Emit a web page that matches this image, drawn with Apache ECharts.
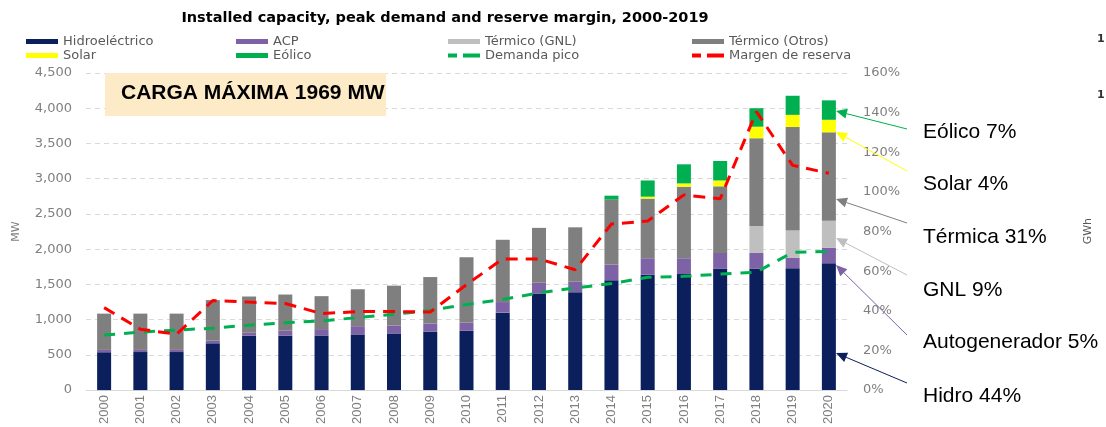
<!DOCTYPE html>
<html>
<head>
<meta charset="utf-8">
<script src="https://cdn.jsdelivr.net/npm/echarts@6/dist/echarts.min.js"></script>
<style>
html,body{margin:0;padding:0;background:#fff;}
#main{width:1106px;height:427px;}
</style>
</head>
<body>
<div id="main"></div>
<script>
// datos (MW y %)
var years = ['2000','2001','2002','2003','2004','2005','2006','2007','2008','2009','2010',
	'2011','2012','2013','2014','2015','2016','2017','2018','2019','2020'];
var hidro = [537,540,540,664,771,771,775,790,804,828,842,1099,1366,1389,1558,1637,1646,1721,1721,1730,1801];
var acp = [33,30,30,37,43,71,90,117,113,116,112,150,158,149,219,234,225,225,225,150,220];
var gnl = [0,0,0,0,0,0,0,0,0,0,0,0,0,0,0,0,0,0,384,384,383];
var otros = [515,515,515,576,514,514,468,524,565,660,931,884,778,772,926,846,1015,945,1244,1469,1254];
var solar = [0,0,0,0,0,0,0,0,0,0,0,0,0,0,0,28,47,84,164,173,178];
var eolico = [0,0,0,0,0,0,0,0,0,0,0,0,0,0,56,230,271,276,262,271,276];
var demanda = [781,823,851,879,921,954,982,1029,1076,1130,1216,1286,1380,1450,1511,1600,1614,1646,1674,1955,1969];
var margen = [41.6,30.7,28.2,45.2,44.4,43.7,38.6,39.6,39.6,39.4,53.2,66.2,66.2,60.7,83.8,85.3,98.5,96.5,140.5,113.4,109.4];

var fam = 'DejaVu Sans';
var grisTxt = '#7f7f7f';
var iconoGuion = 'path://M0,0 H9 V4 H0 Z M15,0 H32 V4 H15 Z';

function barSerie(name, data, color){
	return {
		name: name, type: 'bar', stack: 'cap', barWidth: 14,
		itemStyle: {color: color}, data: data
	};
}

function item(name){
	if(name == 'Demanda pico' || name == 'Margen de reserva'){
		return {name: name, icon: iconoGuion};
	}
	return {name: name, icon: 'rect'};
}

function lineaLeyenda(left, names){
	return {
		orient: 'vertical', left: left, top: 35, itemGap: 1, padding: 0,
		itemWidth: 32, itemHeight: 5,
		textStyle: {fontFamily: fam, fontSize: 13, color: '#595959'},
		data: names.map(item)
	};
}

// flecha de las anotaciones de la derecha
function flecha(x1, y1, x2, y2, color){
	var ang = Math.atan2(y2 - y1, x2 - x1);
	var L = 11, W = 5;
	var bx = x2 - L * Math.cos(ang), by = y2 - L * Math.sin(ang);
	var px = -Math.sin(ang) * W, py = Math.cos(ang) * W;
	return [{
		type: 'line', z: 100,
		shape: {x1: x1, y1: y1, x2: bx, y2: by},
		style: {stroke: color, lineWidth: 1}
	}, {
		type: 'polygon', z: 100,
		shape: {points: [[x2, y2], [bx + px, by + py], [bx - px, by - py]]},
		style: {fill: color}
	}];
}

function nota(text, y){
	return {
		type: 'text', left: 923, top: y - 12, z: 100,
		style: {text: text, fontFamily: 'Liberation Sans', fontSize: 21, fill: '#000'}
	};
}

var graficos = [
	{type: 'rect', z: 50, shape: {x: 105, y: 73, width: 281, height: 43}, style: {fill: '#FDEBC8'}},
	{type: 'text', z: 51, left: 121, top: 83,
		style: {text: 'CARGA MÁXIMA 1969 MW', fontFamily: 'Liberation Sans', fontWeight: 'bold', fontSize: 21, fill: '#000'}},
	nota('Eólico 7%', 134),
	nota('Solar 4%', 186),
	nota('Térmica 31%', 239),
	nota('GNL 9%', 292),
	nota('Autogenerador 5%', 344),
	nota('Hidro 44%', 398),
	{type: 'text', left: 1083, top: 218, rotation: Math.PI / 2,
		style: {text: 'GWh', fontFamily: fam, fontSize: 11, fill: '#595959'}},
	{type: 'text', left: 1097, top: 34, style: {text: '1', fontFamily: fam, fontWeight: 'bold', fontSize: 11, fill: '#333'}},
	{type: 'text', left: 1097, top: 90, style: {text: '1', fontFamily: fam, fontWeight: 'bold', fontSize: 11, fill: '#333'}}
];
graficos = graficos
	.concat(flecha(907, 129, 836, 111, '#00B050'))
	.concat(flecha(907, 171, 836, 132, '#FFFF00'))
	.concat(flecha(907, 223, 836, 199, '#7f7f7f'))
	.concat(flecha(907, 275, 836, 238, '#BFBFBF'))
	.concat(flecha(907, 335, 836, 265, '#7E62A6'))
	.concat(flecha(907, 383, 836, 353, '#0B1F5C'));

var myChart = echarts.init(document.getElementById('main'), null, {renderer: 'canvas'});
var option = {
	animation: false,
	backgroundColor: '#fff',
	title: {
		text: 'Installed capacity, peak demand and reserve margin, 2000-2019',
		left: 440, textAlign: 'center', top: 6,
		textStyle: {fontFamily: fam, fontWeight: 'bold', fontSize: 14.5, color: '#000'}
	},
	legend: [
		lineaLeyenda(26, ['Hidroeléctrico', 'Solar']),
		lineaLeyenda(236, ['ACP', 'Eólico']),
		lineaLeyenda(448, ['Térmico (GNL)', 'Demanda pico']),
		lineaLeyenda(692, ['Térmico (Otros)', 'Margen de reserva'])
	],
	grid: {left: 86, right: 259, top: 73, bottom: 34},
	xAxis: {
		type: 'category', data: years,
		axisTick: {show: false},
		axisLine: {lineStyle: {color: '#D9D9D9'}},
		axisLabel: {rotate: 90, margin: 5, fontFamily: 'Liberation Sans', fontSize: 13, color: grisTxt}
	},
	yAxis: [{
		type: 'value', min: 0, max: 4500, interval: 500,
		name: 'MW', nameLocation: 'middle', nameGap: 64, nameRotate: 90,
		nameTextStyle: {fontFamily: fam, fontSize: 11, color: grisTxt},
		axisLine: {show: false}, axisTick: {show: false},
		axisLabel: {margin: 14, fontFamily: fam, fontSize: 13, color: grisTxt,
			formatter: function(v){ return v.toLocaleString('en-US'); }},
		splitLine: {lineStyle: {color: '#D9D9D9', type: [5, 4]}}
	}, {
		type: 'value', min: 0, max: 160, interval: 20,
		axisLine: {show: false}, axisTick: {show: false},
		axisLabel: {margin: 16, fontFamily: fam, fontSize: 13, color: grisTxt, formatter: '{value}%'},
		splitLine: {show: false}
	}],
	series: [
		barSerie('Hidroeléctrico', hidro, '#0B1F5C'),
		barSerie('ACP', acp, '#7E62A6'),
		barSerie('Térmico (GNL)', gnl, '#BFBFBF'),
		barSerie('Térmico (Otros)', otros, '#7F7F7F'),
		barSerie('Solar', solar, '#FFFF00'),
		barSerie('Eólico', eolico, '#00B050'),
		{
			name: 'Demanda pico', type: 'line', symbol: 'none', z: 5,
			lineStyle: {color: '#00B050', width: 3, type: [11, 9]},
			itemStyle: {color: '#00B050'},
			data: demanda
		},
		{
			name: 'Margen de reserva', type: 'line', yAxisIndex: 1, symbol: 'none', z: 5,
			lineStyle: {color: '#FF0000', width: 3, type: [12, 8]},
			itemStyle: {color: '#FF0000'},
			data: margen
		}
	],
	graphic: graficos
};
myChart.setOption(option);
</script>
</body>
</html>
